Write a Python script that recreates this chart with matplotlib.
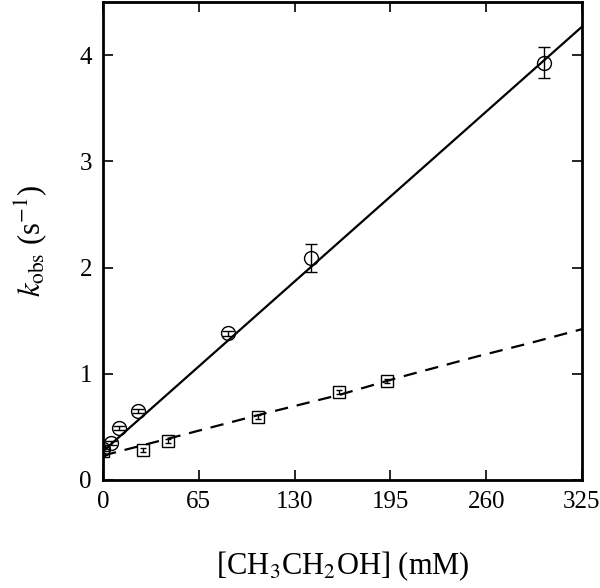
import numpy as np
import matplotlib
matplotlib.use('Agg')
import matplotlib.pyplot as plt

plt.rcParams['font.family'] = ['Liberation Serif', 'DejaVu Serif']
plt.rcParams['mathtext.fontset'] = 'stix'

# circles (top series)
conc_a = [0.3, 5.7, 11.1, 23.4, 85, 141, 299]
kobs_a = [0.29, 0.35, 0.49, 0.65, 1.38, 2.09, 3.93]
err_a = [0.02, 0.02, 0.02, 0.02, 0.02, 0.13, 0.15]

# squares (bottom series)
conc_b = [0.3, 27.4, 43.8, 105, 160, 192.5]
kobs_b = [0.27, 0.28, 0.37, 0.59, 0.83, 0.93]
err_b = [0.02, 0.02, 0.02, 0.02, 0.02, 0.02]

# linear fit for circles
fit_slope = 0.0123
fit_icpt = 0.27

# dashed curve for squares
curve_x = [0, 50, 105, 160, 202, 253, 290, 325]
curve_y = [0.23, 0.41, 0.61, 0.80, 0.97, 1.16, 1.29, 1.42]

fig = plt.figure(figsize=(6, 5.88), dpi=100)
ax = fig.add_axes([0.1717, 0.1837, 0.7983, 0.8129])

xx = np.array([0, 325])
ax.plot(xx, fit_icpt + fit_slope * xx, color='black', lw=1.6)
ax.plot(curve_x, curve_y, color='black', lw=1.6, dashes=(6, 4))

ax.errorbar(conc_a, kobs_a, yerr=err_a, fmt='o', mfc='none', mec='black',
            ms=10, mew=1.0, ecolor='black', elinewidth=1.0, capsize=4)
ax.errorbar(conc_b, kobs_b, yerr=err_b, fmt='s', mfc='none', mec='black',
            ms=9, mew=1.0, ecolor='black', elinewidth=1.0, capsize=2)

ax.set_xlim(0, 325)
ax.set_ylim(0, 4.5)
ax.set_xticks([0, 65, 130, 195, 260, 325])
ax.set_yticks([0, 1, 2, 3, 4])

for s in ax.spines.values():
    s.set_linewidth(2)
ax.tick_params(direction='in', length=7, width=1.2, top=True, right=True,
               labelsize=18, pad=8)

ax.set_xlabel(r'[CH$_3$CH$_2$OH] (mM)', fontsize=22, labelpad=26)
ax.set_ylabel(r'$k_{\rm obs}$ (s$^{-1}$)', fontsize=22, labelpad=22)

fig.savefig('out.png', dpi=100)
